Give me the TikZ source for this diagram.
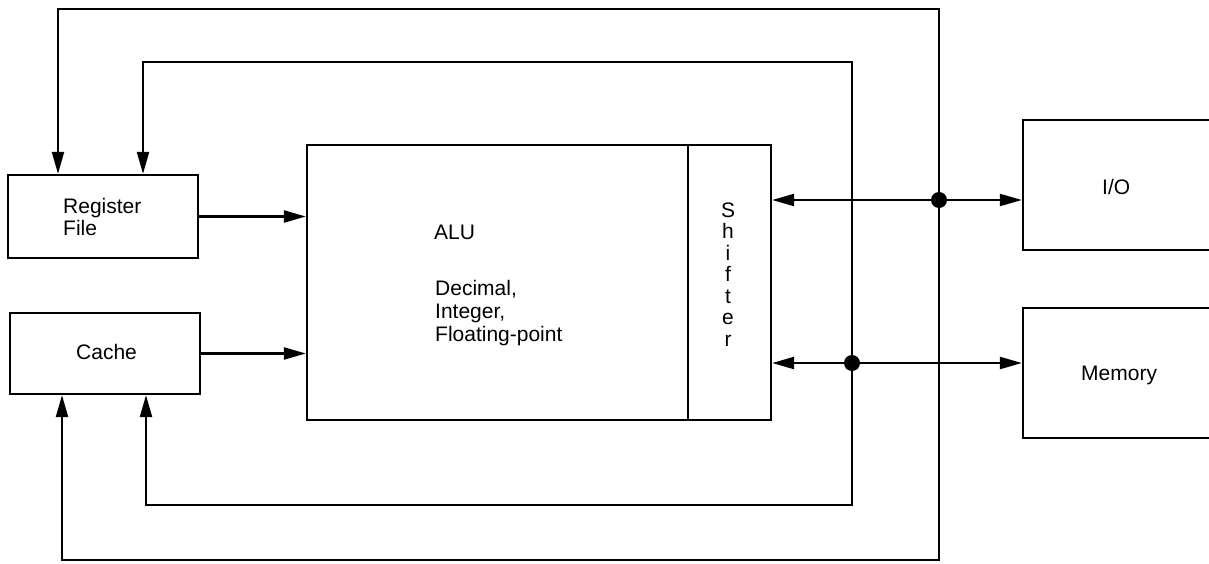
\documentclass[tikz,border=0pt]{standalone}
\usepackage{fontspec}
\setmainfont{Liberation Sans}
\usetikzlibrary{arrows.meta}
\begin{document}
\begin{tikzpicture}[x=1pt,y=-1pt,
  box/.style={draw, line width=2.3pt, inner sep=0pt},
  lbl/.style={font=\fontsize{21}{23}\selectfont, inner sep=0pt},
  conn/.style={line width=2.3pt, -{Triangle[length=22pt,width=12pt]}},
  bidir/.style={line width=2.3pt, {Triangle[length=22pt,width=12pt]}-{Triangle[length=22pt,width=12pt]}},
  junction/.style={circle, fill, inner sep=0pt, minimum size=16pt}]
\useasboundingbox (0,0) rectangle (1209,564);

% boxes
\node[box, minimum width=190pt, minimum height=83pt] (reg) at (103,216.5) {};
\node[box, minimum width=190pt, minimum height=81pt] (cache) at (105,353.5) {};
\node[box, minimum width=381pt, minimum height=275pt] (alu) at (497.5,282.5) {};
\node[box, minimum width=83pt, minimum height=275pt] (shift) at (729.5,282.5) {};
\node[box, minimum width=194pt, minimum height=130pt] (io) at (1120,185) {};
\node[box, minimum width=194pt, minimum height=130pt] (mem) at (1120,373) {};

% texts
\node[lbl, anchor=base west] (treg1) at (63,213) {Register};
\node[lbl, anchor=base west] (treg2) at (63,235) {File};
\node[lbl, anchor=base west] (tcache) at (76,359) {Cache};
\node[lbl, anchor=base west] (talu) at (434,239) {ALU};
\node[lbl, anchor=base west] (tdec) at (435,295) {Decimal,};
\node[lbl, anchor=base west] (tint) at (435,318) {Integer,};
\node[lbl, anchor=base west] (tflo) at (435,341) {Floating-point};
\node[lbl, anchor=base west] (tio) at (1102,194) {I/O};
\node[lbl, anchor=base west] (tmem) at (1081,380) {Memory};
\foreach \ch [count=\i from 0] in {S,h,i,f,t,e,r}
  \node[lbl, anchor=base] (ts\i) at (728,217+21.5*\i) {\ch};

% junctions
\node[junction] (d1) at (939,200) {};
\node[junction] (d2) at (852,363) {};

% ALU inputs
\draw[conn] (reg.east) -- (reg.east -| alu.west);
\draw[conn] (cache.east) -- (cache.east -| alu.west);

% shifter buses
\draw[bidir] (shift.east |- d1) -- (d1 -| io.west);
\draw[bidir] (shift.east |- d2) -- (d2 -| mem.west);

% outer loop
\draw[conn] (d1.center) -- (939,9) -| ([xshift=-45pt]reg.north);
\draw[conn] (d1.center) -- (939,560) -| ([xshift=-43pt]cache.south);
% inner loop
\draw[conn] (d2.center) -- (852,62) -| ([xshift=40pt]reg.north);
\draw[conn] (d2.center) -- (852,505) -| ([xshift=41pt]cache.south);
\end{tikzpicture}
\end{document}
